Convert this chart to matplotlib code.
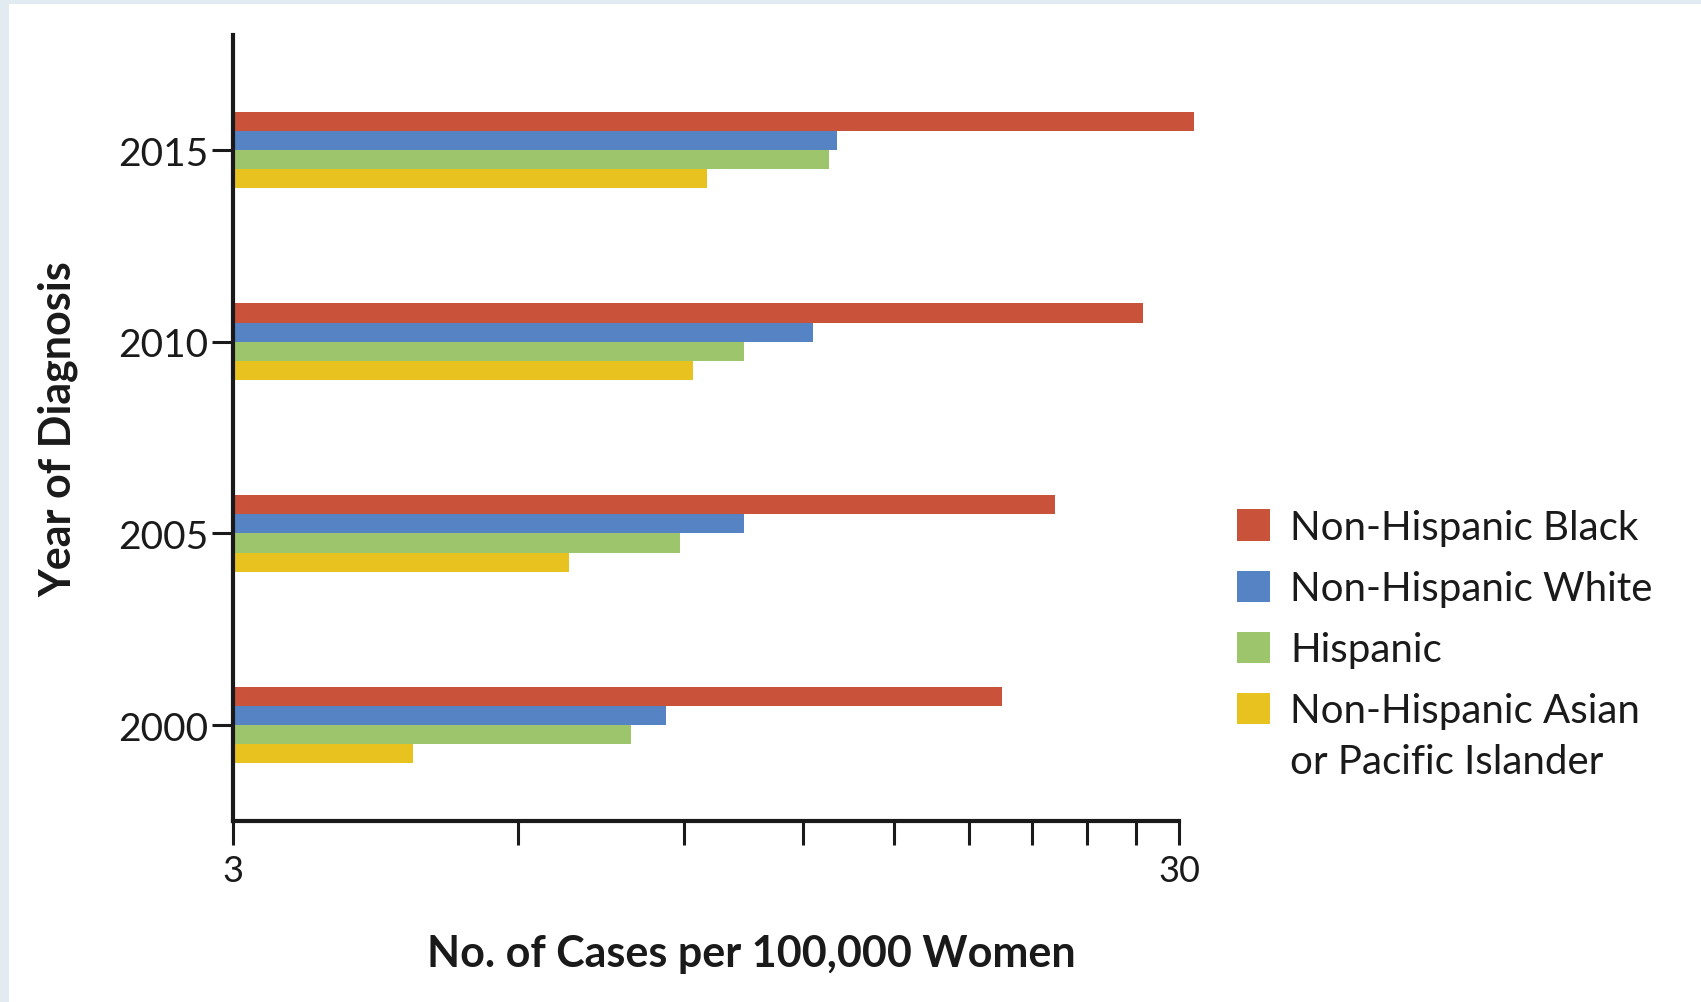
import numpy as np
import matplotlib
matplotlib.use('Agg')
import matplotlib.pyplot as plt
from matplotlib.patches import Rectangle, Patch

plt.rcParams['font.family'] = ['Lato', 'DejaVu Sans']

# incidence per 100,000 women, by year of diagnosis
years = ['2000', '2005', '2010', '2015']
groups = ['Non-Hispanic Black', 'Non-Hispanic White', 'Hispanic', 'Non-Hispanic Asian']
group_extra = 'or Pacific Islander'
black = [19.5, 22.2, 27.5, 31.1]
white = [8.6, 10.4, 12.3, 13.05]
hispanic = [7.9, 8.9, 10.4, 12.8]
asian = [4.65, 6.8, 9.2, 9.5]
colors = ['#c9523b', '#5683c3', '#9dc56b', '#e8c21f']
ink = '#1a1a1a'

fig = plt.figure(figsize=(17.01, 10.03), dpi=100, facecolor='white')
# light frame along the top and left edges
fig.patches.append(Rectangle((0, 1 - 5 / 1003), 1, 5 / 1003, transform=fig.transFigure,
                             facecolor='#e3ebf2', edgecolor='none', zorder=0))
fig.patches.append(Rectangle((0, 0), 9 / 1701, 1, transform=fig.transFigure,
                             facecolor='#e3ebf2', edgecolor='none', zorder=0))

ax = fig.add_axes([233 / 1701, 1 - 822 / 1003, 946 / 1701, 786 / 1003])

y = np.arange(len(years))
h = 0.1
offsets = [1.5 * h, 0.5 * h, -0.5 * h, -1.5 * h]
x0 = 3
for vals, off, c in zip([black, white, hispanic, asian], offsets, colors):
    ax.barh(y + off, np.array(vals) - x0, height=h, left=x0, color=c,
            edgecolor='none', clip_on=False)

ax.set_xscale('log')
ax.set_xlim(3, 30)
ax.set_ylim(-0.5, 3.6)

xt = list(range(3, 31, 3))
ax.set_xticks(xt)
ax.set_xticklabels(['3'] + [''] * (len(xt) - 2) + ['30'])
ax.xaxis.set_minor_locator(matplotlib.ticker.NullLocator())
ax.set_yticks(y)
ax.set_yticklabels(years)

for s in ['top', 'right']:
    ax.spines[s].set_visible(False)
for s in ['left', 'bottom']:
    ax.spines[s].set_linewidth(3)
    ax.spines[s].set_color(ink)
ax.tick_params(axis='x', length=17, width=2.2, colors=ink, labelsize=26, pad=7)
ax.tick_params(axis='y', length=15, width=2.2, colors=ink, labelsize=28, pad=3)

ax.set_xlabel('No. of Cases per 100,000 Women', fontsize=31, fontweight='bold', color=ink)
ax.xaxis.set_label_coords(0.548, -0.143)
ax.set_ylabel('Year of Diagnosis', fontsize=31, fontweight='bold', color=ink)
ax.yaxis.set_label_coords(-0.163, 0.5)

fs = 29
handles = [Patch(facecolor=c, edgecolor='none') for c in colors]
leg = ax.legend(handles, groups, loc='upper left', bbox_to_anchor=(1237 / 1701, 1 - 510 / 1003),
                bbox_transform=fig.transFigure, frameon=False, fontsize=fs,
                handlelength=0.82, handleheight=0.82, handletextpad=0.5,
                labelspacing=0.6, borderpad=0, borderaxespad=0, labelcolor=ink)

# second line of the last legend label, set under the first
fig.canvas.draw()
t = leg.get_texts()[-1]
bx, by = t.get_transform().transform(t.get_position())
fx, fy = fig.transFigure.inverted().transform((bx, by - 50))
fig.text(fx, fy, group_extra, fontsize=fs, color=ink, ha='left', va='baseline')

fig.savefig('out.png', dpi=100, facecolor='white')
